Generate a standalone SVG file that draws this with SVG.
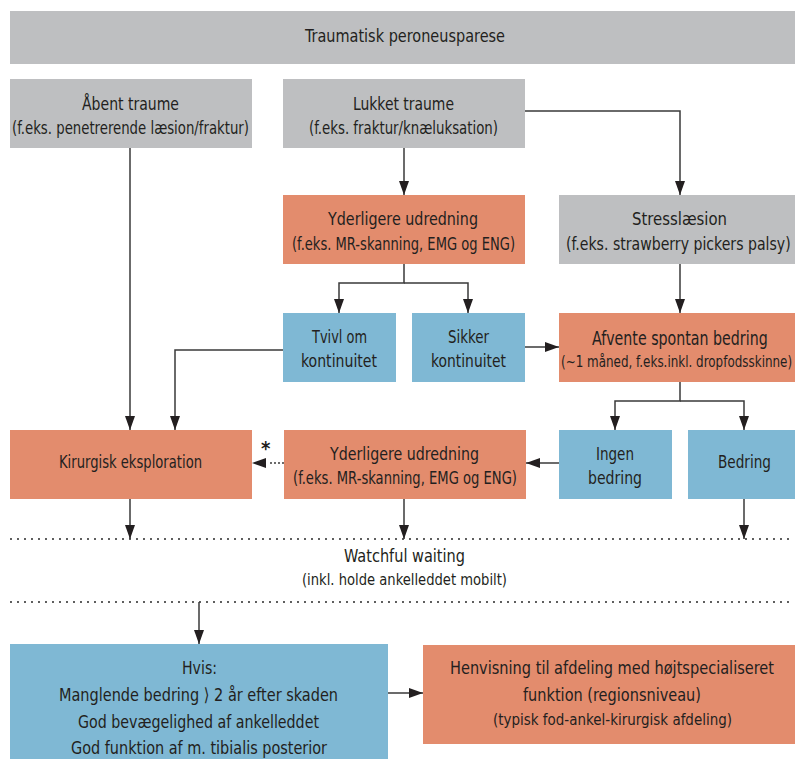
<svg xmlns="http://www.w3.org/2000/svg" width="795" height="759" viewBox="0 0 795 759">
<defs>
<style>
.g{fill:#bebfc1}
.o{fill:#e38c6d}
.b{fill:#7fb8d4}
text{font-family:"DejaVu Sans Condensed","Liberation Sans Narrow",sans-serif;fill:#231f20;font-size:18px}
.s{font-size:17px}
.xs{font-size:16px}
.ln{fill:none;stroke:#3a3a3a;stroke-width:1.5}
.dot{fill:none;stroke:#3a3a3a;stroke-width:2.2;stroke-dasharray:0 7;stroke-linecap:round}
</style>
<marker id="arr" viewBox="0 0 14 10" refX="14" refY="5" markerWidth="14" markerHeight="10" orient="auto" markerUnits="userSpaceOnUse">
<path d="M0,0 L14,5 L0,10 Z" fill="#231f20"/>
</marker>
</defs>
<rect width="795" height="759" fill="#fff"/>
<g id="top"><rect class="g" x="10" y="11" width="785" height="53"/><text x="305" y="42" textLength="200" lengthAdjust="spacingAndGlyphs">Traumatisk peroneusparese</text></g>
<g id="aabent"><rect class="g" x="10" y="79" width="242" height="69"/><text x="82" y="110" textLength="97" lengthAdjust="spacingAndGlyphs">Åbent traume</text><text x="12" y="134" textLength="237" lengthAdjust="spacingAndGlyphs">(f.eks. penetrerende læsion/fraktur)</text></g>
<g id="lukket"><rect class="g" x="283" y="79" width="242" height="69"/><text x="353" y="110" textLength="101" lengthAdjust="spacingAndGlyphs">Lukket traume</text><text x="309" y="134" textLength="189" lengthAdjust="spacingAndGlyphs">(f.eks. fraktur/knæluksation)</text></g>
<g id="yder1"><rect class="o" x="283" y="195" width="242" height="69"/><text x="328" y="225" textLength="150" lengthAdjust="spacingAndGlyphs">Yderligere udredning</text><text x="292" y="250" textLength="223" lengthAdjust="spacingAndGlyphs">(f.eks. MR-skanning, EMG og ENG)</text></g>
<g id="stress"><rect class="g" x="559" y="195" width="236" height="69"/><text x="632" y="225" textLength="95" lengthAdjust="spacingAndGlyphs">Stresslæsion</text><text transform="translate(566,250) scale(0.72,1)" x="0" y="0" textLength="312" lengthAdjust="spacingAndGlyphs">(f.eks. strawberry pickers palsy)</text></g>
<g id="tvivl"><rect class="b" x="283" y="313" width="113" height="69"/><text x="312" y="343" textLength="55" lengthAdjust="spacingAndGlyphs">Tvivl om</text><text x="301" y="367" textLength="76" lengthAdjust="spacingAndGlyphs">kontinuitet</text></g>
<g id="sikker"><rect class="b" x="412" y="313" width="113" height="69"/><text x="448" y="343" textLength="41" lengthAdjust="spacingAndGlyphs">Sikker</text><text x="431" y="367" textLength="75" lengthAdjust="spacingAndGlyphs">kontinuitet</text></g>
<g id="afvente"><rect class="o" x="559" y="313" width="236" height="69"/><text transform="translate(592,345) scale(0.72,1)" x="0" y="0" textLength="244" lengthAdjust="spacingAndGlyphs" style="font-size:19px">Afvente spontan bedring</text><text transform="translate(561,367) scale(0.72,1)" x="0" y="0" class="xs" textLength="321" lengthAdjust="spacingAndGlyphs">(~1 måned, f.eks.inkl. dropfodsskinne)</text></g>
<g id="kirurgisk"><rect class="o" x="10" y="430" width="242" height="69"/><text x="59" y="468" class="s" textLength="143" lengthAdjust="spacingAndGlyphs">Kirurgisk eksploration</text></g>
<g id="yder2"><rect class="o" x="284" y="430" width="242" height="69"/><text x="330" y="460" textLength="149" lengthAdjust="spacingAndGlyphs">Yderligere udredning</text><text x="293" y="484" textLength="224" lengthAdjust="spacingAndGlyphs">(f.eks. MR-skanning, EMG og ENG)</text></g>
<g id="ingen"><rect class="b" x="559" y="430" width="113" height="69"/><text x="596" y="460" textLength="38" lengthAdjust="spacingAndGlyphs">Ingen</text><text x="588" y="484" textLength="54" lengthAdjust="spacingAndGlyphs">bedring</text></g>
<g id="bedring"><rect class="b" x="688" y="430" width="107" height="69"/><text x="718" y="468" textLength="53" lengthAdjust="spacingAndGlyphs">Bedring</text></g>
<g id="watch"><text x="344" y="562" textLength="121" lengthAdjust="spacingAndGlyphs">Watchful waiting</text><text x="302" y="585" class="xs" textLength="205" lengthAdjust="spacingAndGlyphs">(inkl. holde ankelleddet mobilt)</text></g>
<g id="hvis"><rect class="b" x="10" y="644" width="378" height="115"/><text x="182" y="674" textLength="35" lengthAdjust="spacingAndGlyphs">Hvis:</text><text x="59" y="701" textLength="279" lengthAdjust="spacingAndGlyphs">Manglende bedring ⟩ 2 år efter skaden</text><text x="78" y="728" textLength="241" lengthAdjust="spacingAndGlyphs">God bevægelighed af ankelleddet</text><text x="71" y="754" textLength="256" lengthAdjust="spacingAndGlyphs">God funktion af m. tibialis posterior</text></g>
<g id="henvis"><rect class="o" x="423" y="645" width="372" height="99"/><text transform="translate(450,674) scale(0.72,1)" x="0" y="0" textLength="450" lengthAdjust="spacingAndGlyphs">Henvisning til afdeling med højtspecialiseret</text><text x="523" y="701" textLength="178" lengthAdjust="spacingAndGlyphs">funktion (regionsniveau)</text><text x="493" y="725" class="xs" textLength="239" lengthAdjust="spacingAndGlyphs">(typisk fod-ankel-kirurgisk afdeling)</text></g>
<g id="connectors">
<path class="ln" d="M130,148 V430" marker-end="url(#arr)"/>
<path class="ln" d="M404,148 V195" marker-end="url(#arr)"/>
<path class="ln" d="M525,111 H680 V195" marker-end="url(#arr)"/>
<path class="ln" d="M404,264 V283 H339 V313" marker-end="url(#arr)"/>
<path class="ln" d="M404,283 H468 V313" marker-end="url(#arr)"/>
<path class="ln" d="M680,264 V313" marker-end="url(#arr)"/>
<path class="ln" d="M525,347 H559" marker-end="url(#arr)"/>
<path class="ln" d="M283,350 H175 V430" marker-end="url(#arr)"/>
<path class="ln" d="M680,382 V401 H615 V430" marker-end="url(#arr)"/>
<path class="ln" d="M680,401 H744 V430" marker-end="url(#arr)"/>
<path class="ln" d="M559,463 H526" marker-end="url(#arr)"/>
<path d="M283,463 H267" fill="none" stroke="#3a3a3a" stroke-width="2" stroke-dasharray="0 4" stroke-linecap="round"/>
<path d="M266,463 H252" fill="none" stroke="none" marker-end="url(#arr)"/>
<text x="261" y="455" style="font-size:20px;font-weight:bold">*</text>
<path class="ln" d="M130,499 V539" marker-end="url(#arr)"/>
<path class="ln" d="M404,499 V539" marker-end="url(#arr)"/>
<path class="ln" d="M744,499 V539" marker-end="url(#arr)"/>
<path class="dot" d="M11,539 H795"/>
<path class="dot" d="M11,602 H795"/>
<path class="ln" d="M199,602 V644" marker-end="url(#arr)"/>
<path class="ln" d="M388,693 H423" marker-end="url(#arr)"/>
</g>
</svg>
